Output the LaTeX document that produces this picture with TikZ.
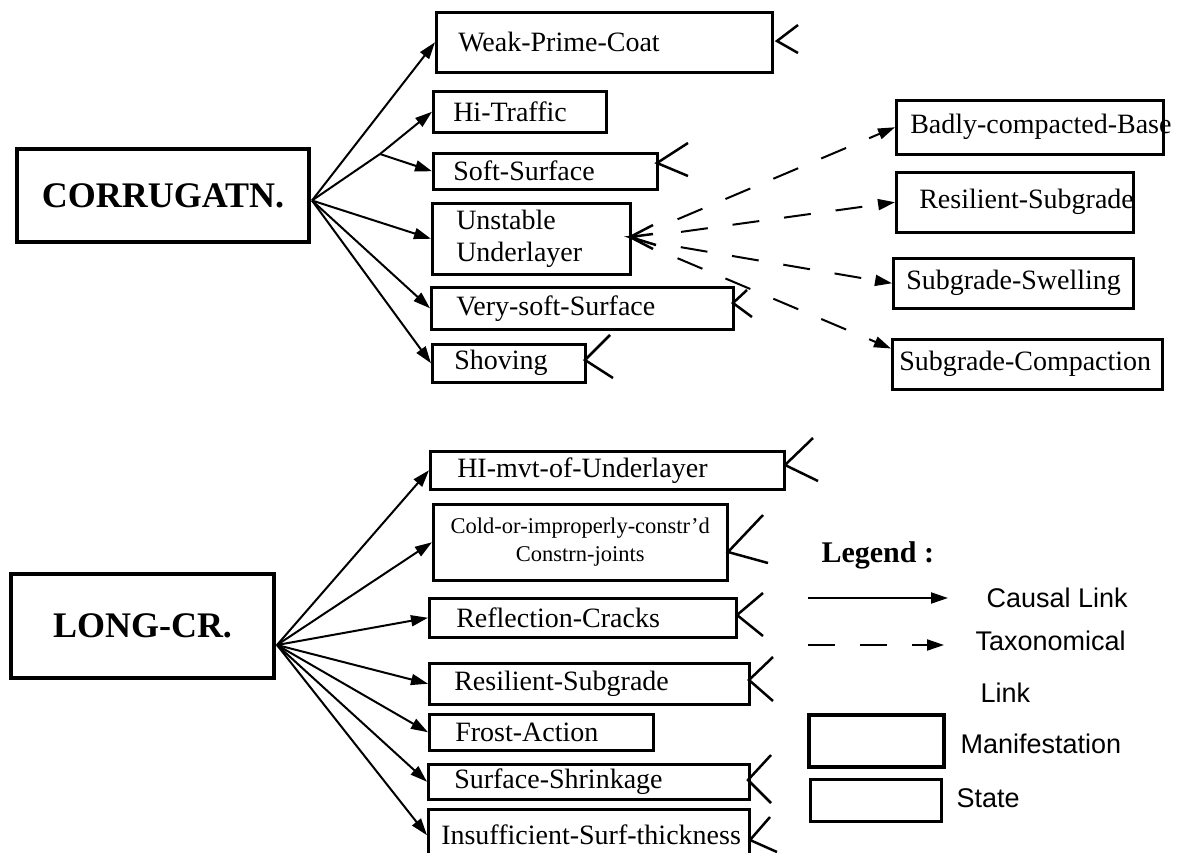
\documentclass[tikz,border=0pt]{standalone}
\usepackage{fontspec}
\setmainfont{Liberation Serif}
\setsansfont{Liberation Sans}
\usetikzlibrary{calc,arrows.meta}

\newcommand{\statefont}{\fontsize{28}{32}\selectfont\exhyphenpenalty=10000 }
\newcommand{\coldfont}{\fontsize{22.5}{28}\selectfont\exhyphenpenalty=10000 }
\newcommand{\titlefont}{\bfseries\fontsize{36}{40}\selectfont}
\newcommand{\keyfont}{\sffamily\fontsize{27}{30}\selectfont}

\begin{document}
\begin{tikzpicture}[x=1pt,y=-1pt,
  statebox/.style={draw, line width=2.5pt, align=left, anchor=north west, inner ysep=0pt, font=\statefont},
  manibox/.style={draw, line width=4pt, align=center, anchor=north west, inner sep=0pt, font=\titlefont},
  keylbl/.style={anchor=base west, font=\keyfont},
  causal/.style={line width=2pt, -{Triangle[length=17pt,width=11pt]}},
  taxo/.style={line width=2pt, dash pattern=on 27pt off 25pt, -{Triangle[length=17pt,width=11pt]}},
  foot/.style={line width=2.5pt}]
  \useasboundingbox (0,0) rectangle (1181,852);
  \clip (0,0) rectangle (1181,852);

  % Manifestations
  \node[manibox, minimum width=292pt, minimum height=93pt] (cor) at (15,147) {CORRUGATN.};
  \node[manibox, minimum width=263pt, minimum height=104pt] (lcr) at (9,572) {LONG-CR.};

  % States of CORRUGATN.
  \node[statebox, minimum height=60pt, text width=292pt, inner xsep=22pt] (wpc) at (435,11) {Weak-Prime-Coat};
  \node[statebox, minimum height=41pt, text width=133pt, inner xsep=20pt] (hitr) at (432,90) {Hi-Traffic};
  \node[statebox, minimum height=36pt, text width=184pt, inner xsep=20pt] (soft) at (432,152) {Soft-Surface};
  \node[statebox, minimum height=71pt, text width=150pt, inner xsep=24pt] (unst) at (431,202) {Unstable\\Underlayer};
  \node[statebox, minimum height=42pt, text width=252pt, inner xsep=25pt] (vsoft) at (430,286) {Very-soft-Surface};
  \node[statebox, minimum height=38pt, text width=109pt, inner xsep=22pt] (shov) at (431,343) {Shoving};

  % Kinds of Unstable Underlayer
  \node[statebox, minimum height=54pt, text width=239pt, inner xsep=14pt] (bad) at (895,99) {Badly-compacted-Base};
  \node[statebox, minimum height=60pt, text width=191pt, inner xsep=23pt] (resr) at (895,171) {Resilient-Subgrade};
  \node[statebox, minimum height=50pt, text width=214pt, inner xsep=13pt] (swell) at (892,257) {Subgrade-Swelling};
  \node[statebox, minimum height=50pt, text width=256pt, inner xsep=7pt] (comp) at (891,338) {Subgrade-Compaction};

  % States of LONG-CR.
  \node[statebox, minimum height=38pt, text width=300pt, inner xsep=27pt] (himvt) at (429,450) {HI-mvt-of-Underlayer};
  \node[statebox, minimum height=76pt, text width=274pt, inner xsep=10pt, align=center, font=\coldfont] (cold) at (432,503) {Cold-or-improperly-constr'd\\Constrn-joints};
  \node[statebox, minimum height=39pt, text width=253pt, inner xsep=27pt] (refl) at (428,597) {Reflection-Cracks};
  \node[statebox, minimum height=41pt, text width=270pt, inner xsep=25pt] (resb) at (428,662) {Resilient-Subgrade};
  \node[statebox, minimum height=36pt, text width=172pt, inner xsep=26pt] (frost) at (428,713) {Frost-Action};
  \node[statebox, minimum height=35pt, text width=269pt, inner xsep=26pt] (shrink) at (427,763) {Surface-Shrinkage};
  \node[statebox, minimum height=52pt, text width=295pt, inner xsep=13pt] (insuf) at (427,808) {Insufficient-Surf-thickness};

  % Causal links
  \coordinate (csrc) at ($(cor.east)+(1,5)$);
  \coordinate (fork) at (380,154);
  \draw[causal] (csrc) -- (wpc.west);
  \draw[line width=2pt] (csrc) -- (fork);
  \draw[causal] (fork) -- (hitr.west);
  \draw[causal] (fork) -- (soft.west);
  \foreach \t in {unst,vsoft,shov}
    \draw[causal] (csrc) -- (\t.west);

  \coordinate (lsrc) at ($(lcr.east)+(1,19)$);
  \foreach \t in {himvt,cold,refl,resb,frost,shrink,insuf}
    \draw[causal] (lsrc) -- (\t.west);

  % Taxonomical links
  \foreach \t in {bad,resr,swell}
    \draw[taxo, shorten <=25pt, dash phase=27pt] (unst.east) -- (\t.west);
  \draw[taxo, shorten <=25pt, dash phase=27pt] (unst.east) -- ($(comp.north west)!0.2!(comp.south west)$);

  % Crow feet
  \draw[foot] (798,25) -- (777,41) -- (798,53);
  \draw[foot] (688,143) -- (657,163) -- (688,176);
  \draw[foot] (747,290) -- (733,303) -- (752,317);
  \draw[foot] (610,335) -- (585,360) -- (613,378);
  \draw[foot] (653,225) -- (630,237) -- (653,249);
  \draw[foot] (653,234) -- (630,237) -- (656,245);
  \draw[foot] (813,438) -- (785,465) -- (818,481);
  \draw[foot] (763,515) -- (728,552) -- (768,563);
  \draw[foot] (763,593) -- (737,615) -- (763,636);
  \draw[foot] (773,657) -- (749,680) -- (773,701);
  \draw[foot] (771,755) -- (748,780) -- (771,803);
  \draw[foot] (770,817) -- (750,840) -- (777,852);

  % Legend
  \node[anchor=base west, font=\bfseries\fontsize{30}{34}\selectfont] (leg) at (818,562) {Legend :};
  \coordinate (ca) at (808,598);
  \coordinate (cb) at (948,598);
  \draw[causal] (ca) -- (cb);
  \node[keylbl] (cl) at (983,607) {Causal Link};
  \coordinate (ta) at (808,645);
  \coordinate (tb) at (944,645);
  \draw[taxo] (ta) -- (tb);
  \node[keylbl] (tl) at (972,650) {Taxonomical};
  \node[keylbl] (ll) at (977,702) {Link};
  \node[draw, line width=4pt, anchor=north west, minimum width=135pt, minimum height=52pt, inner sep=0pt] (km) at (807,713) {};
  \node[keylbl] (kml) at (957,753) {Manifestation};
  \node[draw, line width=2.5pt, anchor=north west, minimum width=131pt, minimum height=42pt, inner sep=0pt] (ks) at (809,778) {};
  \node[keylbl] (ksl) at (953,807) {State};
\end{tikzpicture}
\end{document}
